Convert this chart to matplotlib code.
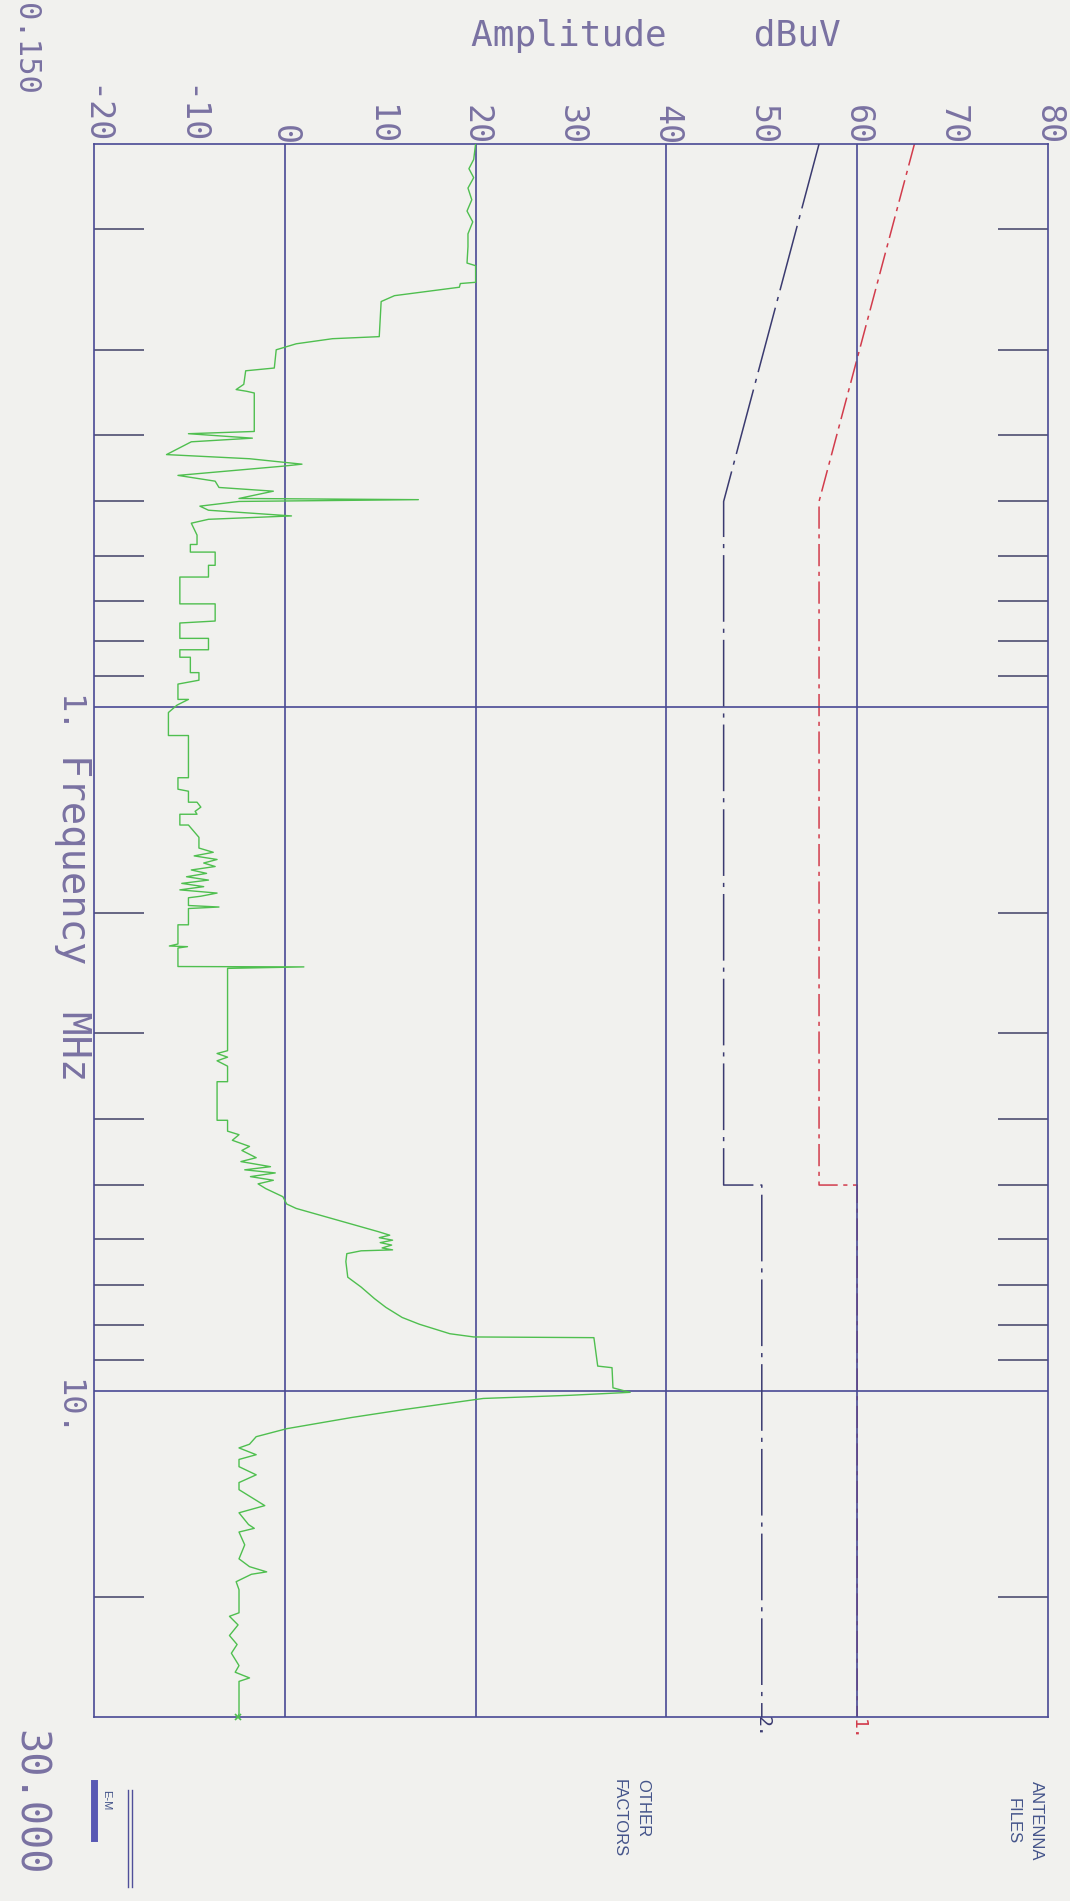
import matplotlib
matplotlib.use("Agg")
import matplotlib.pyplot as plt
from matplotlib.lines import Line2D
from matplotlib.ticker import NullFormatter

plt.rcParams['font.family'] = ['DejaVu Sans Mono', 'DejaVu Sans']
plt.rcParams['lines.scale_dashes'] = False
plt.rcParams['axes.unicode_minus'] = False

scan_freq = [
    0.150, 0.158, 0.163, 0.168, 0.174, 0.181, 0.188, 0.195, 0.203, 0.212,
    0.224, 0.226, 0.239, 0.240, 0.243, 0.250, 0.255, 0.287, 0.289, 0.294,
    0.300, 0.319, 0.322, 0.337, 0.343, 0.345, 0.347, 0.395, 0.398, 0.404,
    0.409, 0.427, 0.433, 0.441, 0.444, 0.458, 0.467, 0.477, 0.483, 0.489,
    0.495, 0.497, 0.500, 0.508, 0.515, 0.525, 0.531, 0.538,
    0.560, 0.578, 0.578, 0.593, 0.593, 0.620, 0.620, 0.645, 0.645, 0.706,
    0.706, 0.748, 0.753, 0.793, 0.793, 0.824, 0.824, 0.845, 0.845, 0.890,
    0.890, 0.913, 0.925, 0.974, 0.974, 0.993, 1.018,
    1.100, 1.100, 1.268, 1.268, 1.318, 1.327, 1.377, 1.377, 1.40, 1.42,
    1.434, 1.434, 1.487, 1.487, 1.55, 1.607, 1.63, 1.65, 1.67, 1.69,
    1.71, 1.73, 1.75, 1.77, 1.79, 1.81, 1.83, 1.85, 1.87, 1.89,
    1.90, 1.95, 1.96, 1.97, 2.081, 2.081, 2.22, 2.235, 2.24, 2.25,
    2.395, 2.398, 2.41,
    2.444, 3.18, 3.21, 3.25, 3.29, 3.35, 3.53, 3.53, 4.02, 4.02,
    4.17, 4.22, 4.30, 4.39, 4.45, 4.56, 4.62, 4.70, 4.75, 4.80,
    4.86, 4.92, 4.98, 5.06, 5.20, 5.33, 5.41,
    5.60, 5.85, 5.92, 5.97, 6.02, 6.07, 6.12, 6.18, 6.22, 6.24,
    6.30, 6.47, 6.82, 7.05, 7.33, 7.55, 7.81, 7.99, 8.25, 8.34,
    8.36, 9.20, 9.25, 9.90, 10.05,
    10.15, 10.26, 10.66, 10.94, 11.36, 11.67, 11.97, 12.12, 12.4, 12.6,
    12.91, 13.27, 13.62, 13.95, 14.72, 15.08, 15.69, 15.89, 16.09, 16.8,
    17.61, 18.08, 18.4, 18.55, 19.02, 19.54, 21.12, 21.37, 22.0, 22.8,
    23.5, 24.2, 25.23, 25.8, 26.3, 26.61, 29.67, 30.0,
]
scan_amp = [
    20.0, 19.8, 19.3, 19.8, 19.2, 19.6, 19.1, 19.7, 19.2, 19.2,
    19.1, 20.0, 20.0, 18.4, 18.3, 11.5, 10.1, 9.9, 5.0, 1.2,
    -0.9, -1.1, -4.1, -4.3, -5.1, -4.0, -3.2, -3.2, -10.1, -3.4,
    -9.8, -12.4, -3.7, 1.8, -0.2, -11.2, -7.3, -6.9, -1.2, -3.0,
    -4.8, 14.0, -4.8, -8.9, -8.0, 0.7, -8.0, -9.8,
    -9.2, -9.2, -9.9, -9.9, -7.3, -7.3, -8.0, -8.0, -11.0, -11.0,
    -7.3, -7.3, -11.0, -11.0, -8.0, -8.0, -11.0, -11.0, -9.9, -9.9,
    -9.0, -9.0, -11.2, -11.2, -10.1, -11.3, -12.2,
    -12.2, -10.1, -10.1, -11.2, -11.2, -10.1, -10.1, -9.2, -8.8, -9.4,
    -9.2, -11.0, -11.0, -10.1, -9.0, -9.0, -7.5, -9.5, -7.1, -8.5,
    -7.3, -9.8, -8.2, -10.3, -8.0, -10.8, -8.5, -11.0, -7.1, -8.8,
    -10.1, -10.1, -6.9, -10.1, -10.1, -11.2, -11.2, -12.1, -10.2, -11.2,
    -11.2, 2.0, -6.0,
    -6.0, -6.0, -7.1, -6.0, -7.1, -6.0, -6.0, -7.1, -7.1, -6.0,
    -6.0, -4.8, -5.5, -3.7, -4.5, -3.0, -4.6, -1.5, -4.2, -1.0,
    -3.6, -1.2, -2.8, -2.0, -0.2, 0.2, 1.2,
    5.0, 9.8, 11.0, 9.9, 11.3, 10.0, 11.2, 10.2, 11.3, 8.0,
    6.5, 6.4, 6.6, 8.0, 9.4, 10.6, 12.3, 14.1, 17.3, 19.8,
    32.4, 32.8, 34.3, 34.4, 36.2,
    30.0, 20.8, 12.3, 7.0, 0.2, -3.0, -3.7, -4.8, -3.0, -4.8,
    -4.8, -3.0, -4.8, -4.8, -2.1, -4.8, -3.8, -3.2, -4.8, -4.2,
    -4.8, -3.7, -1.9, -3.5, -5.1, -4.8, -4.8, -5.8, -4.9, -5.8,
    -5.0, -5.6, -4.8, -5.2, -3.7, -4.8, -4.8, -4.9,
]

# ---- limit lines ----
limit1_freq = [0.15, 0.5, 5.0, 5.0, 30.0]
limit1_amp = [66, 56, 56, 60, 60]
limit2_freq = [0.15, 0.5, 5.0, 5.0, 30.0]
limit2_amp = [56, 46, 46, 50, 50]

amp_ticks = [-20, -10, 0, 10, 20, 30, 40, 50, 60, 70, 80]
amp_labels = [str(v) for v in amp_ticks]
amp_minor = [-10, 10, 30, 50, 70]
amp_grid = [0, 20, 40, 60]
freq_grid = [1, 10]
freq_grid_labels = ['1.', '10.']
freq_minor = [0.2, 0.3, 0.4, 0.5, 0.6, 0.7, 0.8, 0.9,
              2, 3, 4, 5, 6, 7, 8, 9, 20]

bg = '#f1f1ee'
frame_col = '#4a4a94'
tick_col = '#4e4e70'
text_col = '#7a72a2'
green = '#4fbf4f'
red = '#d23c4c'
navy = '#3b3b70'

W, H = 1070, 1901


def fx(px):
    return px / W


def fy(py):
    return 1 - py / H


fig = plt.figure(figsize=(W / 100, H / 100), dpi=100, facecolor=bg)
ax = fig.add_axes([fx(94), fy(1717), (1048 - 94) / W, (1717 - 144) / H])
ax.set_facecolor(bg)

ax.set_xlim(-20, 80)
ax.set_yscale('log')
ax.set_ylim(30, 0.15)

for v in amp_grid:
    ax.axvline(v, color=frame_col, lw=1.2, zorder=2)
for v in freq_grid:
    ax.axhline(v, color=frame_col, lw=1.2, zorder=2)

ax.plot(limit1_amp, limit1_freq, color=red, lw=1.1, dashes=(16, 4, 3, 4), zorder=1)
ax.plot(limit2_amp, limit2_freq, color=navy, lw=1.1, dashes=(48, 5, 3, 5), zorder=3)
ax.plot(scan_amp, scan_freq, color=green, lw=1.0, zorder=4)
ax.plot(scan_amp[-1:], scan_freq[-1:], 'x', color=green, ms=4, mew=1.2,
        clip_on=False, zorder=5)

for s in ax.spines.values():
    s.set_color(frame_col)
    s.set_linewidth(1.2)

ax.xaxis.set_ticks_position('top')
ax.set_xticks(amp_ticks, labels=amp_labels)
ax.set_xticks(amp_minor, minor=True)
ax.tick_params(axis='x', which='major', length=0, pad=-1, labelrotation=-90,
               labelsize=24, labelcolor=text_col)
ax.tick_params(axis='x', which='minor', direction='in', length=36, width=1.2,
               color=tick_col)

ax.yaxis.set_ticks_position('both')
ax.set_yticks(freq_grid, labels=freq_grid_labels)
ax.set_yticks(freq_minor, minor=True)
ax.yaxis.set_minor_formatter(NullFormatter())
ax.tick_params(axis='y', which='major', length=0, pad=8, labelrotation=-90,
               labelsize=23, labelcolor=text_col)
ax.tick_params(axis='y', which='minor', direction='in', length=36, width=1.2,
               color=tick_col, left=True, right=True)

fig.text(fx(656), fy(36), 'Amplitude    dBuV', ha='center', va='center',
         fontsize=26, color=text_col)
fig.text(fx(73), fy(918), 'Frequency  MHz', rotation=-90, ha='center',
         va='center', fontsize=28, color=text_col)
fig.text(fx(25), fy(3), '0.150', rotation=-90, ha='center', va='top',
         fontsize=22, color=text_col)
fig.text(fx(29), fy(1730), '30.000', rotation=-90, ha='center', va='top',
         fontsize=29, color=text_col)

fig.text(fx(858), fy(1719), '1.', rotation=-90, ha='center', va='top',
         fontsize=13, color=red)
fig.text(fx(763), fy(1716), '2.', rotation=-90, ha='center', va='top',
         fontsize=13, color=navy)

side_font = ['Liberation Sans', 'DejaVu Sans']
fig.text(fx(1025), fy(1821), 'ANTENNA\nFILES', rotation=-90, ha='center',
         va='center', multialignment='center', linespacing=1.7,
         fontsize=12, color='#44548a', family=side_font)
fig.text(fx(631), fy(1779), 'OTHER\nFACTORS', rotation=-90, ha='center',
         va='top', multialignment='left', linespacing=1.7,
         fontsize=12, color='#44548a', family=side_font)

# E-M logo
fig.add_artist(Line2D([fx(94), fx(94)], [fy(1783), fy(1838)], color='#5858b4', lw=5))
fig.text(fx(106), fy(1790), 'E-M', rotation=-90, ha='center', va='top',
         fontsize=8, color='#44548a', family=side_font)
fig.add_artist(Line2D([fx(128), fx(128)], [fy(1790), fy(1887)], color='#50509a', lw=1))
fig.add_artist(Line2D([fx(132), fx(132)], [fy(1790), fy(1887)], color='#50509a', lw=1))

fig.savefig('out.png', dpi=100, facecolor=bg)
